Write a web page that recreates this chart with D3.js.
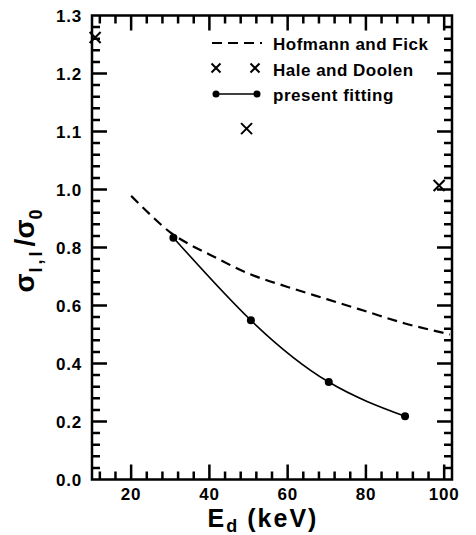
<!DOCTYPE html>
<html lang="en">
<head>
<meta charset="utf-8">
<title>sigma ratio vs Ed</title>
<script src="https://cdn.jsdelivr.net/npm/d3@7"></script>
<style>
  body { margin: 0; background: #fff; }
  text { font-family: "Liberation Sans", Arial, sans-serif; font-weight: bold; fill: #000; }
</style>
</head>
<body>
<script>
// Hofmann and Fick (dashed curve)
var hfE = [20, 25, 30, 35, 40, 50, 60, 70, 80, 90, 100, 101.5];
var hfR = [0.978, 0.912, 0.852, 0.81, 0.776, 0.71, 0.664, 0.622, 0.58, 0.538, 0.505, 0.50];
// Hale and Doolen (crosses)
var hdE = [10.8, 49.5, 98.7];
var hdR = [1.262, 1.105, 1.007];
// present fitting (dots + curve)
var pfE = [30.8, 50.6, 70.5, 90.0];
var pfR = [0.834, 0.549, 0.336, 0.218];

var xMajor = [20, 40, 60, 80, 100];
var xMinor = [12, 16, 24, 28, 32, 36, 44, 48, 52, 56, 64, 68, 72, 76, 84, 88, 92, 96];
var yMajor = [0, 0.2, 0.4, 0.6, 0.8, 1.0, 1.1, 1.2, 1.3];
var yMinor = [0.04, 0.08, 0.12, 0.16, 0.24, 0.28, 0.32, 0.36, 0.44, 0.48, 0.52, 0.56,
              0.64, 0.68, 0.72, 0.76, 0.84, 0.88, 0.92, 0.96,
              1.02, 1.04, 1.06, 1.08, 1.12, 1.14, 1.16, 1.18, 1.22, 1.24, 1.26, 1.28];

var pLeft = 92, pRight = 452, pTop = 15.5, pBottom = 479.5;

var xs = d3.scaleLinear().domain([10, 102]).range([pLeft, pRight]);
// broken scale: 0.1 above 1.0 takes the same space as 0.2 below
var ys = d3.scaleLinear().domain([0, 1.0, 1.3]).range([pBottom, 189.5, pTop]);

var svg = d3.select("body").append("svg").attr("width", 476).attr("height", 535);

// tick labels
svg.selectAll("text.xl")
  .data(xMajor)
  .enter().append("text")
  .attr("class", "xl")
  .attr("x", function(d) { return xs(d); })
  .attr("y", 500)
  .attr("text-anchor", "middle")
  .style("font-size", "17px").style("letter-spacing", "0.8px")
  .text(d3.format("d"));
svg.selectAll("text.yl")
  .data(yMajor)
  .enter().append("text")
  .attr("class", "yl")
  .attr("x", 82)
  .attr("y", function(d) { return ys(d) + 6; })
  .attr("text-anchor", "end")
  .style("font-size", "17px").style("letter-spacing", "0.8px")
  .text(d3.format(".1f"));

// Hofmann and Fick
svg.append("path")
  .datum(d3.zip(hfE, hfR))
  .attr("d", d3.line().x(function(d) { return xs(d[0]); }).y(function(d) { return ys(d[1]); }).curve(d3.curveMonotoneX))
  .attr("fill", "none").attr("stroke", "black").attr("stroke-width", 2.2)
  .attr("stroke-dasharray", "10,6");

// present fitting
svg.append("path")
  .datum(d3.zip(pfE, pfR))
  .attr("d", d3.line().x(function(d) { return xs(d[0]); }).y(function(d) { return ys(d[1]); }).curve(d3.curveNatural))
  .attr("fill", "none").attr("stroke", "black").attr("stroke-width", 1.6);
svg.selectAll("circle.pf")
  .data(d3.zip(pfE, pfR))
  .enter().append("circle")
  .attr("class", "pf")
  .attr("cx", function(d) { return xs(d[0]); })
  .attr("cy", function(d) { return ys(d[1]); })
  .attr("r", 4).attr("fill", "black");

// Hale and Doolen crosses
function cross(cx, cy, s) {
  return "M" + (cx - s) + "," + (cy - s) + "L" + (cx + s) + "," + (cy + s) +
         "M" + (cx - s) + "," + (cy + s) + "L" + (cx + s) + "," + (cy - s);
}
svg.selectAll("path.hd")
  .data(d3.zip(hdE, hdR))
  .enter().append("path")
  .attr("class", "hd")
  .attr("d", function(d) { return cross(xs(d[0]), ys(d[1]), 5.5); })
  .attr("fill", "none").attr("stroke", "black").attr("stroke-width", 2);

// legend
var lg = svg.append("g");
lg.append("line").attr("x1", 212).attr("x2", 262).attr("y1", 43).attr("y2", 43)
  .attr("stroke", "black").attr("stroke-width", 2.2).attr("stroke-dasharray", "10,6");
lg.append("path").attr("d", cross(216, 68, 4.5) + cross(255, 68, 4.5))
  .attr("fill", "none").attr("stroke", "black").attr("stroke-width", 2);
lg.append("line").attr("x1", 216).attr("x2", 257).attr("y1", 94).attr("y2", 94)
  .attr("stroke", "black").attr("stroke-width", 1.6);
lg.selectAll("circle").data([216, 257]).enter().append("circle")
  .attr("cx", function(d) { return d; }).attr("cy", 94).attr("r", 3.5).attr("fill", "black");
lg.selectAll("text")
  .data(["Hofmann and Fick", "Hale and Doolen", "present fitting"])
  .enter().append("text")
  .attr("x", 273)
  .attr("y", function(d, i) { return 50 + i * 25.5; })
  .style("font-size", "17px")
  .style("letter-spacing", "0.5px")
  .text(function(d) { return d; });

// x label
var xlab = svg.append("text")
  .attr("x", 263).attr("y", 527)
  .attr("text-anchor", "middle")
  .style("font-size", "25px")
  .style("letter-spacing", "2px");
xlab.append("tspan").text("E");
xlab.append("tspan").attr("dy", 5).style("font-size", "18px").text("d");
xlab.append("tspan").attr("dy", -5).attr("dx", 8).text("(keV)");

// y label
var ylab = svg.append("text")
  .attr("transform", "translate(34,251) rotate(-90)")
  .attr("text-anchor", "middle")
  .style("font-size", "28px");
ylab.append("tspan").text("σ");
ylab.append("tspan").attr("dy", 8).attr("dx", 1).style("font-size", "18px").style("letter-spacing", "3px").text("l,l");
ylab.append("tspan").attr("dy", -8).attr("dx", 2).text("/σ");
ylab.append("tspan").attr("dy", 8).style("font-size", "18px").text("0");

// frame and inward ticks on all four sides, drawn last as one path
var fp = d3.path();
fp.rect(pLeft, pTop, pRight - pLeft, pBottom - pTop);
xMajor.forEach(function(v) {
  fp.moveTo(xs(v), pBottom); fp.lineTo(xs(v), pBottom - 15);
  fp.moveTo(xs(v), pTop); fp.lineTo(xs(v), pTop + 15);
});
xMinor.forEach(function(v) {
  fp.moveTo(xs(v), pBottom); fp.lineTo(xs(v), pBottom - 8);
  fp.moveTo(xs(v), pTop); fp.lineTo(xs(v), pTop + 8);
});
yMajor.forEach(function(v) {
  fp.moveTo(pLeft, ys(v)); fp.lineTo(pLeft + 15, ys(v));
  fp.moveTo(pRight, ys(v)); fp.lineTo(pRight - 15, ys(v));
});
yMinor.forEach(function(v) {
  fp.moveTo(pLeft, ys(v)); fp.lineTo(pLeft + 8, ys(v));
  fp.moveTo(pRight, ys(v)); fp.lineTo(pRight - 8, ys(v));
});
svg.append("path")
  .attr("d", fp.toString())
  .attr("fill", "none")
  .attr("stroke", "black")
  .attr("stroke-width", 2.5);
</script>
</body>
</html>
